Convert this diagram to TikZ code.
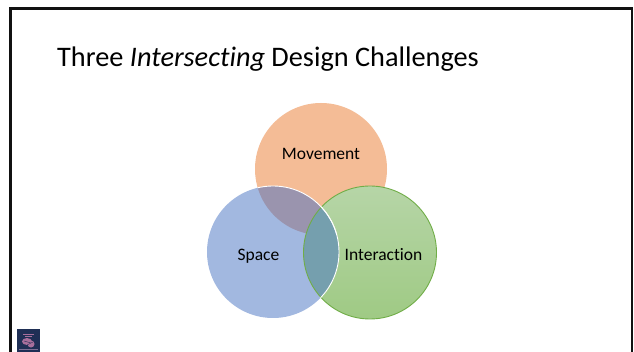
\documentclass[tikz,border=0pt]{standalone}
\usepackage{fontspec}
\setmainfont[Ligatures=NoCommon]{Carlito}
\definecolor{frameblack}{HTML}{111111}
\definecolor{movefill}{HTML}{F4BC96}
\definecolor{spacefill}{HTML}{A2B8E0}
\definecolor{interA}{HTML}{B6D5A7}
\definecolor{interB}{HTML}{9FCA84}
\definecolor{interline}{HTML}{70AD47}
\definecolor{msfill}{HTML}{9A94AE}
\definecolor{sifill}{HTML}{759FAE}
\definecolor{logonavy}{HTML}{1F2F55}
\definecolor{logopink}{HTML}{A86F9C}
\definecolor{logoline}{HTML}{7D6F95}
\tikzset{
  x=1pt,y=-1pt,
  lbl/.style={font=\fontsize{17.5}{20}\selectfont,text=black,inner sep=0pt},
  ttl/.style={font=\fontsize{28.3}{32}\selectfont,text=black,inner sep=0pt,anchor=base west},
  whiteline/.style={draw=white,line width=0.9pt},
  greenline/.style={draw=interline,line width=0.9pt}
}
\begin{document}
\begin{tikzpicture}
\useasboundingbox (0,0) rectangle (634,352);
\fill[white] (0,0) rectangle (634,352);
% slide frame
\draw[frameblack,line width=2.6pt,line join=miter] (10.5,352) -- (10.5,8.5) -- (632,8.5) -- (632,352);
% title
\node[ttl] (title) at (57,66.5) {Three \textit{Intersecting} Design Challenges};
% circles
\coordinate (mc) at (321,169);
\coordinate (sc) at (273,252);
\coordinate (ic) at (370,252.5);
\fill[movefill] (mc) circle[radius=66];
\draw[top color=interA,bottom color=interB,greenline] (ic) circle[radius=66.5];
\fill[spacefill] (sc) circle[radius=66];
% overlaps
\begin{scope}
  \clip (sc) circle[radius=66];
  \fill[msfill] (mc) circle[radius=66];
  \fill[sifill] (ic) circle[radius=66.5];
  \draw[greenline] (ic) circle[radius=66.5];
\end{scope}
\begin{scope}
  \clip (ic) circle[radius=67];
  \draw[whiteline] (sc) circle[radius=66];
\end{scope}
\begin{scope}
  \clip (mc) circle[radius=66];
  \draw[whiteline] (sc) circle[radius=66];
\end{scope}
% labels
\node[lbl] (movement) at (321,154) {Movement};
\node[lbl] (space) at (258.5,256) {Space};
\node[lbl] (interaction) at (383.5,255) {Interaction};
% logo
\fill[logonavy] (17,329) rectangle (40,352);
\fill[logopink] (23,334) rectangle (34,335);
\fill[logopink] (25,336) rectangle (32,337);
\fill[logopink] (27,341.5) ellipse[x radius=5,y radius=3.5];
\fill[logopink] (31,344) ellipse[x radius=3.5,y radius=3.5];
\draw[logonavy,line width=0.4pt] (24,341) -- (31,343) (27,345) -- (33,342);
\fill[logoline] (19,349) rectangle (38,350);
\end{tikzpicture}
\end{document}
